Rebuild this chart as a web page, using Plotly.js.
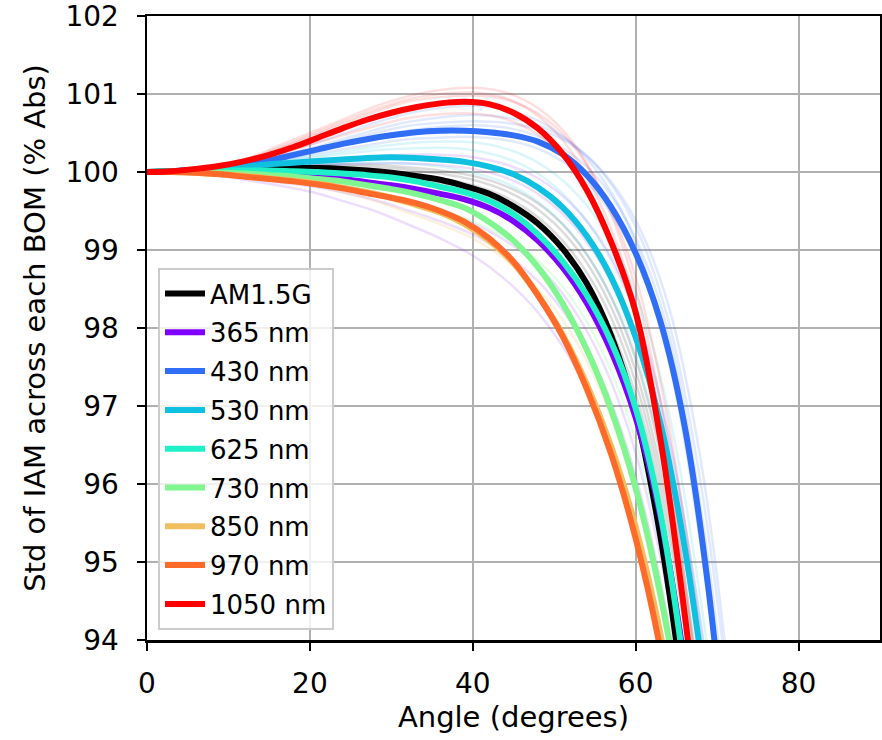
<!DOCTYPE html>
<html>
<head>
<meta charset="utf-8">
<script src="https://cdn.plot.ly/plotly-3.0.1.min.js"></script>
<style>html,body{margin:0;padding:0;background:#fff;}#chart{width:882px;height:740px;}</style>
</head>
<body>
<div id="chart"></div>
<script>
// ---- main curves (thick), uniform 3-degree grid ----
const mainAngles = [0,3,6,9,12,15,18,21,24,27,30,33,36,39,42,45,48,51,54,57,60,63,66,69,72];
const seriesNames = ["AM1.5G","365 nm","430 nm","530 nm","625 nm","730 nm","850 nm","970 nm","1050 nm"];
const seriesColors = ["#000000","#8000ff","#2f6ef5","#10c0e0","#1ff0c8","#80f590","#f0c060","#ff6a2a","#ff0000"];
const am15g  = [100,100.01,100.02,100.03,100.04,100.05,100.05,100.05,100.04,100.02,99.99,99.95,99.9,99.82,99.72,99.56,99.34,99.02,98.57,97.9,96.9,95.35,93.2,90.6,87.5];
const nm365  = [100,100,100,100,99.99,99.98,99.96,99.94,99.91,99.87,99.83,99.78,99.72,99.65,99.54,99.37,99.12,98.78,98.32,97.7,96.85,95.6,93.7,91.2,88.2];
const nm430  = [100,100.01,100.03,100.06,100.1,100.15,100.22,100.29,100.36,100.42,100.47,100.51,100.53,100.53,100.51,100.47,100.39,100.23,99.96,99.55,98.96,98.1,96.75,94.6,91.5];
const nm530  = [100,100.01,100.03,100.05,100.07,100.1,100.12,100.14,100.16,100.18,100.19,100.18,100.16,100.13,100.07,99.97,99.8,99.55,99.18,98.65,97.88,96.8,95.2,93.0,90.2];
const nm625  = [100,100.01,100.01,100.02,100.02,100.02,100.01,100.0,99.98,99.96,99.93,99.88,99.81,99.74,99.63,99.46,99.2,98.86,98.42,97.82,96.97,95.65,93.6,91.0,88];
const nm730  = [100,100,100,99.99,99.98,99.96,99.94,99.91,99.88,99.83,99.78,99.72,99.64,99.54,99.36,99.12,98.78,98.32,97.72,96.95,95.95,94.6,92.8,90.4,87.5];
const nm850  = [100,100,99.99,99.97,99.95,99.92,99.89,99.85,99.8,99.74,99.67,99.58,99.48,99.33,99.12,98.83,98.42,97.92,97.28,96.48,95.45,94.1,92.3,90,87.3];
const nm970  = [100,100,99.99,99.97,99.94,99.91,99.88,99.84,99.79,99.73,99.67,99.6,99.5,99.36,99.15,98.85,98.42,97.9,97.22,96.38,95.3,93.9,92.0,89.6,86.8];
const nm1050 = [100,100.01,100.04,100.08,100.14,100.22,100.32,100.44,100.56,100.67,100.76,100.83,100.88,100.9,100.87,100.76,100.56,100.24,99.77,99.1,98.2,96.6,94.35,91.6,88.4];
const mainValues = [am15g,nm365,nm430,nm530,nm625,nm730,nm850,nm970,nm1050];

// ---- faint per-BOM curves, uniform 4-degree grid ----
const faintAngles = [0,4,8,12,16,20,24,28,32,36,40,44,48,52,56,60,64,68,72];
const greyLines = [
  [100,100.01,100.02,100.04,100.06,100.08,100.08,100.06,100.03,99.98,99.9,99.76,99.52,99.12,98.48,97.45,95.7,93.0,89.6],
  [100,100.01,100.01,100.02,100.03,100.03,100.01,99.98,99.92,99.85,99.74,99.57,99.3,98.87,98.2,97.15,95.4,92.7,89.3],
  [100,100.01,100.02,100.03,100.05,100.06,100.05,100.02,99.97,99.92,99.83,99.68,99.42,99.0,98.35,97.3,95.55,92.85,89.4],
  [100,100.01,100.03,100.05,100.07,100.09,100.1,100.09,100.06,100.02,99.95,99.82,99.6,99.22,98.6,97.6,95.9,93.2,89.8]
];
const lavenderLines = [
  [100,99.99,99.96,99.9,99.83,99.75,99.63,99.5,99.33,99.15,98.93,98.62,98.2,97.6,96.75,95.5,93.6,90.8,87.3],
  [100,99.99,99.97,99.93,99.87,99.82,99.74,99.64,99.51,99.37,99.2,98.95,98.6,98.08,97.3,96.1,94.25,91.5,88],
  [100,100.01,100.02,100.04,100.06,100.08,100.1,100.11,100.11,100.09,100.04,99.93,99.72,99.36,98.78,97.85,96.25,93.7,90.3],
  [100,100,99.98,99.96,99.92,99.88,99.82,99.74,99.63,99.5,99.34,99.12,98.8,98.3,97.55,96.4,94.55,91.8,88.3],
  [100,100.01,100.03,100.06,100.09,100.12,100.16,100.2,100.22,100.22,100.19,100.1,99.92,99.6,99.08,98.2,96.65,94.2,90.9]
];
const lightBlueLines = [
  [100,100.02,100.05,100.12,100.21,100.3,100.42,100.54,100.64,100.7,100.73,100.7,100.6,100.38,99.98,99.3,98.1,96.0,92.8],
  [100,100.01,100.04,100.09,100.15,100.22,100.29,100.36,100.42,100.44,100.45,100.41,100.3,100.06,99.62,98.9,97.6,95.2,91.8],
  [100,100.01,100.04,100.1,100.17,100.25,100.35,100.45,100.53,100.58,100.6,100.57,100.46,100.24,99.84,99.15,97.95,95.7,92.3],
  [100,100.02,100.05,100.11,100.19,100.28,100.39,100.5,100.59,100.63,100.65,100.63,100.55,100.36,100.0,99.38,98.3,96.3,93],
  [100,100.02,100.06,100.14,100.24,100.35,100.49,100.63,100.75,100.82,100.85,100.8,100.66,100.38,99.9,99.1,97.7,95.3,91.8]
];
const lightCyanLines = [
  [100,100.01,100.04,100.08,100.13,100.18,100.23,100.28,100.3,100.31,100.28,100.18,99.98,99.62,99.05,98.15,96.6,94.2,91],
  [100,100.01,100.03,100.06,100.08,100.1,100.11,100.12,100.11,100.07,99.99,99.86,99.62,99.22,98.6,97.65,96.0,93.4,90],
  [100,100.01,100.04,100.09,100.14,100.2,100.26,100.32,100.37,100.39,100.38,100.3,100.12,99.8,99.28,98.45,96.95,94.5,91.2]
];
const paleGreenLines = [
  [100,100,99.98,99.96,99.93,99.9,99.83,99.75,99.63,99.51,99.37,99.16,98.86,98.4,97.68,96.55,94.7,91.9,88.5]
];
const peachLines = [
  [100,99.99,99.97,99.93,99.88,99.83,99.74,99.63,99.48,99.33,99.15,98.88,98.5,97.95,97.12,95.85,93.9,91.0,87.5]
];
const pinkLines = [
  [100,100.02,100.07,100.16,100.33,100.5,100.67,100.84,100.97,101.05,101.08,101.02,100.82,100.42,99.7,98.5,96.5,93.6,90],
  [100,100.02,100.06,100.14,100.29,100.45,100.61,100.77,100.9,100.96,100.98,100.93,100.75,100.38,99.72,98.65,96.8,94.0,90.4],
  [100,100.02,100.05,100.12,100.23,100.35,100.47,100.59,100.69,100.74,100.75,100.68,100.48,100.08,99.38,98.25,96.2,93.2,89.5],
  [100,100.02,100.07,100.15,100.3,100.47,100.64,100.8,100.93,101.0,101.02,100.95,100.72,100.28,99.52,98.3,96.2,93.2,89.5]
];
const faintGroups = [
  {lines: greyLines, color: "rgba(0,0,0,0.14)"},
  {lines: lavenderLines, color: "rgba(150,60,255,0.17)"},
  {lines: lightBlueLines, color: "rgba(47,110,245,0.15)"},
  {lines: lightCyanLines, color: "rgba(16,192,224,0.15)"},
  {lines: paleGreenLines, color: "rgba(128,245,144,0.22)"},
  {lines: peachLines, color: "rgba(240,192,96,0.22)"},
  {lines: pinkLines, color: "rgba(255,0,0,0.13)"}
];

const traces = [];
faintGroups.forEach(g => {
  g.lines.forEach(vals => {
    traces.push({
      x: faintAngles, y: vals, type: "scatter", mode: "lines",
      line: {color: g.color, width: 2.5, shape: "spline"},
      showlegend: false, hoverinfo: "skip"
    });
  });
});
seriesNames.forEach((name, i) => {
  traces.push({
    x: mainAngles, y: mainValues[i], type: "scatter", mode: "lines",
    name: name, legendgroup: "g" + i,
    line: {color: seriesColors[i], width: 6, shape: "spline"}
  });
});

const fontFam = "DejaVu Sans, sans-serif";
const layout = {
  width: 882, height: 740,
  margin: {l: 147, r: 2, t: 16, b: 100},
  paper_bgcolor: "#ffffff", plot_bgcolor: "#ffffff",
  font: {family: fontFam, size: 28, color: "#000"},
  showlegend: true,
  legend: {
    x: 0.015, y: 0.596, xanchor: "left", yanchor: "top",
    bgcolor: "rgba(255,255,255,0.8)", bordercolor: "#cccccc", borderwidth: 2,
    font: {family: fontFam, size: 26, color: "#000"},
    tracegroupgap: 2, itemwidth: 40
  },
  xaxis: {
    range: [0, 90], dtick: 20, tick0: 0,
    ticks: "outside", ticklen: 8, tickwidth: 2, tickcolor: "#000",
    ticklabelstandoff: 9, ticklabeloverflow: "allow",
    showline: true, linewidth: 2.5, linecolor: "#000", mirror: true,
    showgrid: true, gridcolor: "#b0b0b0", gridwidth: 2,
    zeroline: false, automargin: false,
    tickfont: {family: fontFam, size: 28, color: "#000"},
    title: {text: "Angle (degrees)", font: {family: fontFam, size: 29, color: "#000"}, standoff: 4}
  },
  yaxis: {
    range: [94, 102], dtick: 1, tick0: 94,
    ticks: "outside", ticklen: 8, tickwidth: 2, tickcolor: "#000",
    ticklabelstandoff: 12, ticklabeloverflow: "allow",
    showline: true, linewidth: 2.5, linecolor: "#000", mirror: true,
    showgrid: true, gridcolor: "#b0b0b0", gridwidth: 2,
    zeroline: false, automargin: false,
    tickfont: {family: fontFam, size: 28, color: "#000"},
    title: {text: "Std of IAM across each BOM (% Abs)", font: {family: fontFam, size: 29, color: "#000"}, standoff: 12}
  }
};
Plotly.newPlot("chart", traces, layout, {displayModeBar: false, staticPlot: true});
</script>
</body>
</html>
